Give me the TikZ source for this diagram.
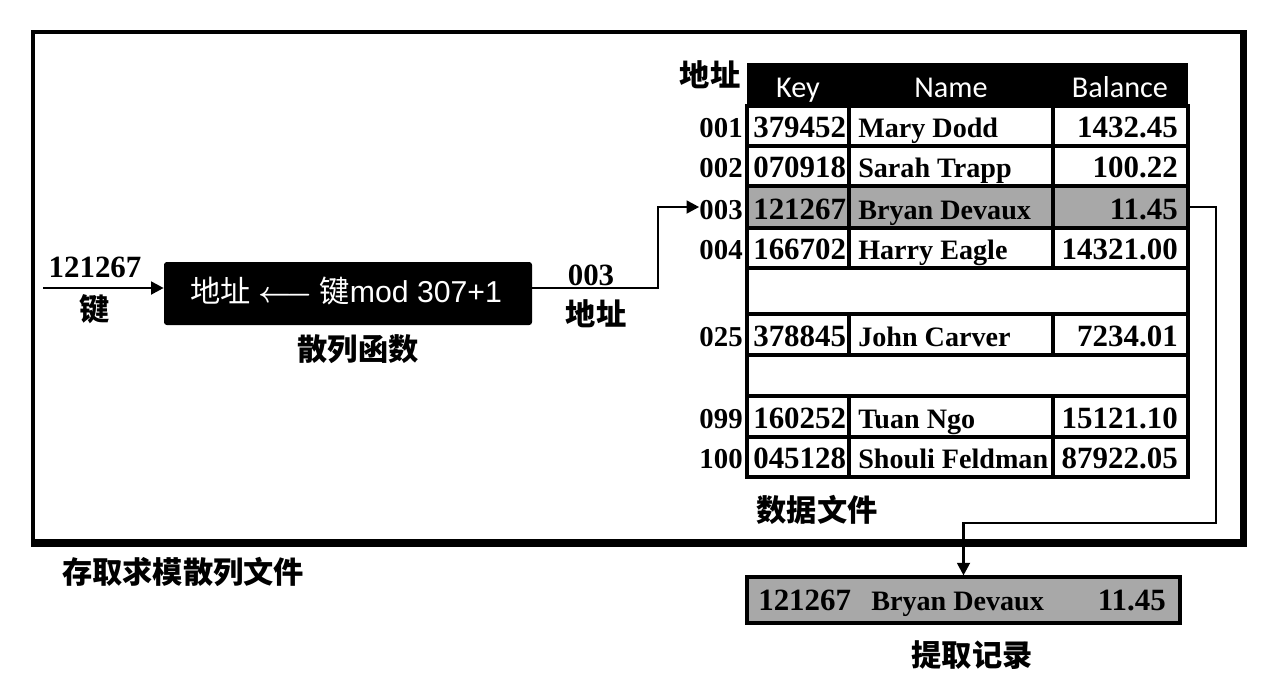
\documentclass[tikz,border=0pt]{standalone}
\usepackage{fontspec}
\setmainfont{Liberation Serif}
\newfontfamily\cjk{Noto Sans CJK SC}
\newfontfamily\hsans{Carlito}
\newfontfamily\lsans{Liberation Sans}
\usetikzlibrary{arrows.meta,fit}
\definecolor{hl}{gray}{0.66}
\begin{document}
\begin{tikzpicture}[x=0.025cm,y=-0.025cm,
  conn/.style={line width=2pt},
  tip/.style={-{Triangle[length=9pt,width=9pt]}},
  cellbox/.style={draw,line width=2.2pt,inner sep=0pt},
  num/.style={font=\fontsize{22}{24}\selectfont\bfseries, inner sep=0pt},
  nm/.style={font=\fontsize{20}{22}\selectfont\bfseries, inner sep=0pt},
  addr/.style={font=\fontsize{20.5}{22}\selectfont\bfseries, inner sep=0pt, anchor=base east},
  zh/.style={font=\cjk\bfseries\fontsize{21.5}{24}\selectfont, inner sep=0pt},
  hdr/.style={font=\hsans\fontsize{21.5}{24}\selectfont, text=white, inner sep=0pt, anchor=base},
]
\useasboundingbox (0,0) rectangle (1280,672);

% outer frame
\draw[line width=2.2pt] (33,543) -- (33,32) -- (1243,32);
\draw[line width=5pt, line join=miter] (1243,30) -- (1243,543) -- (31,543);
\node[zh] (framelbl) at (183,572) {存取求模散列文件};

% hash function box
\node[fit={(164,262) (532,325)}, fill=black, inner sep=0pt, rounded corners=2pt] (hash) {};
\node[text=white, font=\fontsize{21.5}{24}\selectfont, inner sep=0pt, anchor=base] (hashtxt)
      at (346,302) {{\cjk 地址} {\boldmath$\longleftarrow$} {\cjk 键}{\lsans mod 307+1}};
\node[zh] (hashlbl) at (358,349) {散列函数};

% key input
\node[num, anchor=base] (kin) at (95,277) {121267};
\node[zh] (kzh) at (95,309) {键};
\coordinate (kstart) at (43,288);

% address output
\node[num, anchor=base] (o3) at (591,285) {003};
\node[zh] (ozh) at (596,314) {地址};

% table header
\node[fit={(747,63) (1188,106)}, fill=black, inner sep=0pt] (hdrrow) {};
\node[hdr] at (798,97) {Key};
\node[hdr] at (951,97) {Name};
\node[hdr] at (1120,97) {Balance};
\node[zh] (addrh) at (710,75) {地址};

% table rows
\foreach \a/\t/\b/\k/\n/\v/\f in {
  001/106/146/379452/Mary Dodd/1432.45/white,
  002/146/186/070918/Sarah Trapp/100.22/white,
  003/186/228/121267/Bryan Devaux/11.45/hl,
  004/228/268/166702/Harry Eagle/14321.00/white,
  025/314/355/378845/John Carver/7234.01/white,
  099/396/437/160252/Tuan Ngo/15121.10/white,
  100/437/477/045128/Shouli Feldman/87922.05/white}{
  \node[cellbox, fill=\f, fit={(747,\t) (1188,\b)}] (r\a) {};
  \draw[line width=2.2pt] (849,\t) -- (849,\b) (1053,\t) -- (1053,\b);
  \node[addr] (a\a) at (743,{\b-9}) {\a};
  \node[num, anchor=base west] at (753,{\b-9}) {\k};
  \node[nm, anchor=base west] at (858,{\b-9}) {\n};
  \node[num, anchor=base east] at (1178,{\b-9}) {\v};
}
\node[cellbox, fit={(747,268) (1188,314)}] (gap1) {};
\node[cellbox, fit={(747,355) (1188,396)}] (gap2) {};
\node[zh] (filelbl) at (817,510) {数据文件};

% result record
\node[cellbox, fill=hl, fit={(747,577) (1180,623)}] (res) {};
\node[num, anchor=base west] at (758,610) {121267};
\node[nm, anchor=base west] at (871,610) {Bryan Devaux};
\node[num, anchor=base east] at (1166,610) {11.45};
\node[zh] (reslbl) at (972,655) {提取记录};

% connectors
\draw[conn,tip] (kstart) -- (kstart -| hash.west);
\coordinate (turn) at (658,207);
\draw[conn,tip] (hash.east |- kstart) -| (turn) -- (turn -| a003.west);
\coordinate (drop) at (1216,523);
\draw[conn,tip] (r003.east) -| (drop) -| (res.north);
\end{tikzpicture}
\end{document}
